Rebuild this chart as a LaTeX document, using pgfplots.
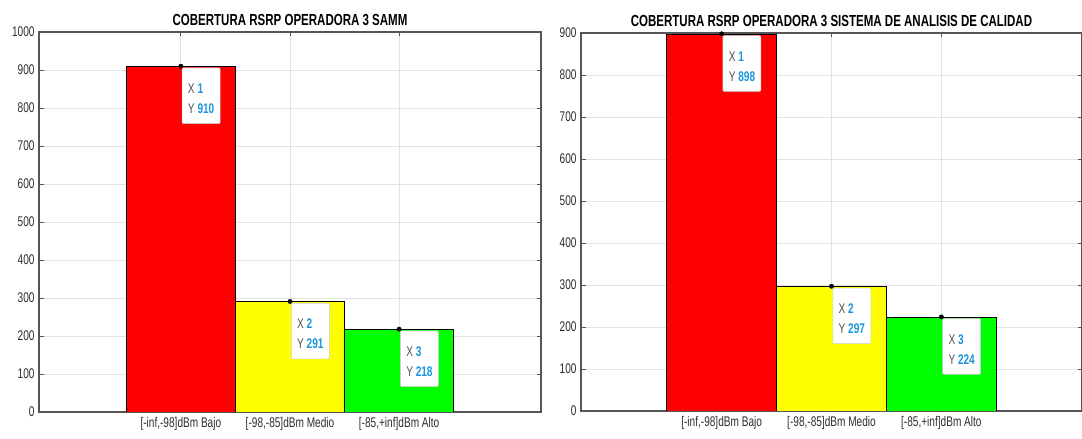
\documentclass[border=0pt]{standalone}
\usepackage{fontspec}
\setmainfont{Liberation Sans}[FakeStretch=0.72]
\usepackage{pgfplots}
\pgfplotsset{compat=1.18}

\definecolor{axgray}{RGB}{85,85,85}
\definecolor{gridgray}{RGB}{226,226,226}
\definecolor{labgray}{RGB}{45,45,45}
\definecolor{tipgray}{RGB}{80,80,80}
\definecolor{tipblue}{RGB}{25,150,220}
\definecolor{barred}{RGB}{255,0,0}
\definecolor{baryellow}{RGB}{255,255,0}
\definecolor{bargreen}{RGB}{0,255,0}

\pgfplotsset{
  rsrp/.style={
    scale only axis,
    anchor=south west,
    ymin=0,
    xtick={1,2,3},
    xticklabels={{[-inf,-98]dBm Bajo},{[-98,-85]dBm Medio},{[-85,+inf]dBm Alto}},
    ytick distance=100,
    tick align=inside,
    major tick length=4.5pt,
    tick style={axgray, line width=0.8pt},
    axis line style={axgray, line width=1.1pt},
    grid=major,
    major grid style={gridgray, line width=0.8pt},
    ticklabel style={font=\fontsize{14}{16}\selectfont, text=labgray},
    yticklabel style={xshift=-1pt},
    xticklabel style={yshift=-2pt},
    title style={font=\fontsize{16}{18}\selectfont\bfseries, text=black, yshift=-3pt},
    /pgf/number format/assume math mode=true,
    /pgf/number format/1000 sep={},
  },
  rsrpbar/.style={ybar, bar width=1, bar shift=0pt, draw=black, line width=0.6pt, fill=#1},
  datatip/.style={
    only marks, mark=*, mark size=2.2pt, black,
    visualization depends on={x \as \xval},
    nodes near coords={\rule{0pt}{15.5pt}\textcolor{tipgray}{X}
      \textcolor{tipblue}{\bfseries\pgfmathprintnumber[fixed,precision=0]{\xval}}\\
      \textcolor{tipgray}{Y}
      \textcolor{tipblue}{\bfseries\pgfmathprintnumber[fixed,precision=0]{\pgfplotspointmeta}}},
    every node near coord/.append style={
      anchor=north west, xshift=1pt, yshift=-1.5pt,
      fill=white, draw=gray!40, line width=0.6pt, rounded corners=1pt,
      align=left, inner xsep=5pt, inner ysep=10pt, minimum width=38pt,
      font=\fontsize{14}{20}\selectfont,
    },
  },
}

\begin{document}
\begin{tikzpicture}
\path[use as bounding box] (0pt,0pt) rectangle (1082pt,439pt);

% SAMM drive test
\begin{axis}[rsrp,
  at={(39pt,27pt)}, width=502pt, height=380pt,
  xmin=-0.3, xmax=4.3, ymax=1000,
  title={COBERTURA RSRP OPERADORA 3 SAMM}]
  \addplot[rsrpbar=barred]    coordinates {(1,910)};
  \addplot[rsrpbar=baryellow] coordinates {(2,291)};
  \addplot[rsrpbar=bargreen]  coordinates {(3,218)};
  \addplot[datatip] coordinates {(1,910) (2,291) (3,218)};
\end{axis}

% quality analysis system
\begin{axis}[rsrp,
  at={(581pt,28pt)}, width=501pt, height=378pt,
  xmin=-0.28, xmax=4.28, ymax=900,
  title={COBERTURA RSRP OPERADORA 3 SISTEMA DE ANALISIS DE CALIDAD}]
  \addplot[rsrpbar=barred]    coordinates {(1,898)};
  \addplot[rsrpbar=baryellow] coordinates {(2,297)};
  \addplot[rsrpbar=bargreen]  coordinates {(3,224)};
  \addplot[datatip] coordinates {(1,898) (2,297) (3,224)};
\end{axis}
\end{tikzpicture}
\end{document}
